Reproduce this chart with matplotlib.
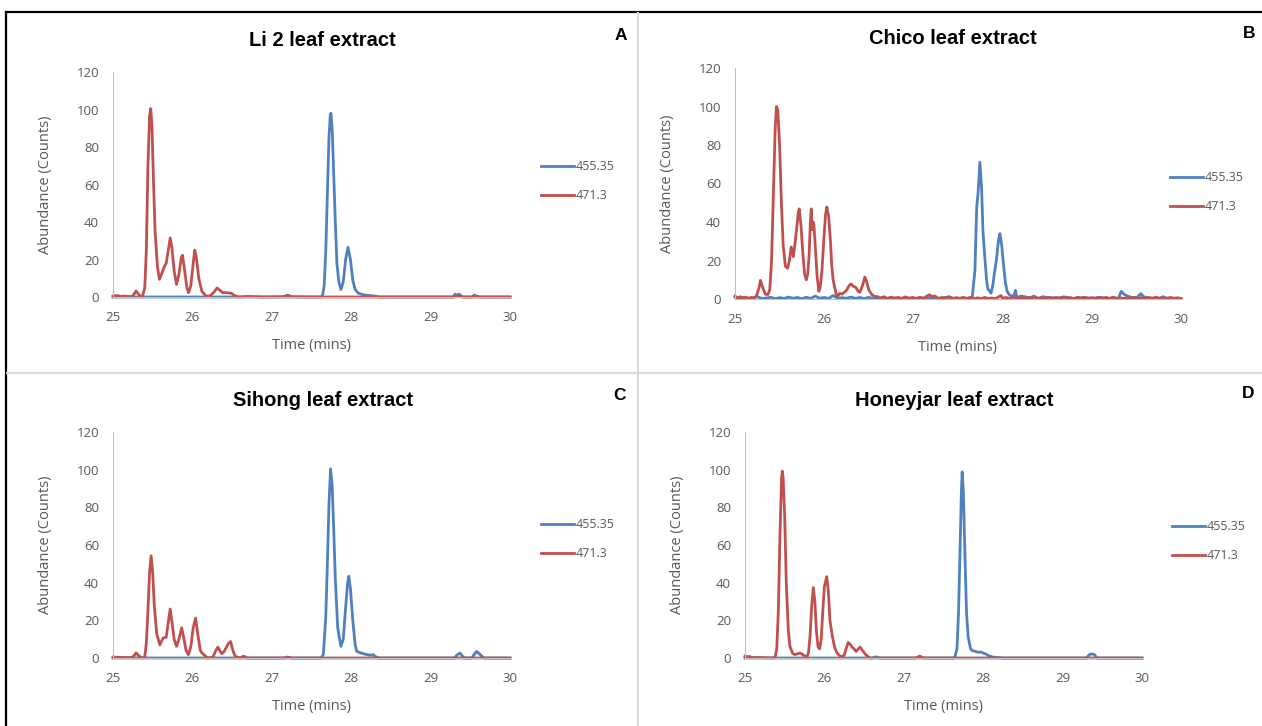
import numpy as np
import matplotlib.pyplot as plt
from matplotlib.lines import Line2D

# Ion traces (time in mins, abundance in counts) for the four leaf extracts
a_455 = np.array([
    [25.0, 0], [27.62, 0], [27.64, 1], [27.66, 6], [27.68, 25], [27.70, 55], [27.72, 85], [27.735, 96],
    [27.745, 98], [27.76, 90], [27.78, 65], [27.80, 40], [27.82, 18], [27.845, 8], [27.87, 4],
    [27.90, 8], [27.93, 20], [27.96, 26.5], [27.99, 20], [28.02, 9], [28.05, 4], [28.09, 2],
    [28.15, 1.2], [28.22, 0.8], [28.30, 0.5], [28.35, 0], [29.28, 0], [29.31, 1.5], [29.33, 1],
    [29.36, 1.5], [29.40, 0], [29.52, 0], [29.55, 1], [29.58, 0.5], [29.62, 0], [30.0, 0]])
a_471 = np.array([
    [25.0, 0.5], [25.05, 0.8], [25.1, 0.3], [25.15, 0.5], [25.2, 0.2], [25.25, 0.5], [25.29, 3.2],
    [25.33, 1.0], [25.37, 0], [25.40, 5], [25.42, 25], [25.44, 70], [25.46, 96], [25.475, 100.5],
    [25.49, 92], [25.51, 62], [25.53, 35], [25.56, 16], [25.585, 9.4], [25.61, 12], [25.64, 15.6],
    [25.67, 18], [25.70, 26], [25.72, 31.5], [25.74, 27], [25.77, 14], [25.80, 6.7], [25.83, 12],
    [25.86, 21], [25.875, 22.3], [25.90, 15], [25.93, 5], [25.95, 2.3], [25.98, 6], [26.01, 18],
    [26.03, 25], [26.05, 21], [26.08, 10], [26.12, 3], [26.17, 0.5], [26.22, 0.5], [26.27, 2.5],
    [26.31, 4.8], [26.35, 3.5], [26.38, 2.3], [26.41, 2.3], [26.45, 2.2], [26.49, 2], [26.53, 0.8],
    [26.58, 0], [26.7, 0.3], [26.9, 0], [27.15, 0.2], [27.2, 1], [27.25, 0.2], [27.5, 0],
    [29.3, 0], [29.35, 0.5], [29.4, 0], [30.0, 0]])

b_455 = np.array([
    [25.00, 1.0], [25.05, 0.3], [25.10, 0.8], [25.15, 0.2], [25.20, 0.6], [25.25, 1.2], [25.30, 0.3],
    [25.35, 0.5], [25.40, 0.9], [25.45, 0.2], [25.50, 0.7], [25.55, 0.3], [25.60, 1.0], [25.65, 0.4],
    [25.70, 0.8], [25.75, 0.2], [25.80, 0.9], [25.85, 0.3], [25.90, 1.5], [25.95, 0.4], [26.00, 0.8],
    [26.05, 0.3], [26.10, 1.8], [26.15, 0.3], [26.20, 0.7], [26.25, 0.4], [26.30, 1.0], [26.35, 0.3],
    [26.40, 0.8], [26.45, 0.2], [26.50, 0.9], [26.55, 0.3], [26.60, 0.5], [26.70, 0.3], [26.80, 0.6],
    [26.90, 0.2], [27.00, 0.5], [27.10, 0.2], [27.20, 0.6], [27.30, 0.3], [27.40, 1.2], [27.45, 0.3],
    [27.55, 0.5], [27.62, 0.3], [27.66, 1], [27.69, 15], [27.71, 48], [27.725, 55], [27.745, 71],
    [27.765, 57], [27.78, 35], [27.80, 22], [27.82, 10], [27.835, 5], [27.85, 4.5], [27.87, 3],
    [27.89, 7], [27.91, 14], [27.93, 20], [27.955, 31], [27.97, 34], [27.99, 28], [28.01, 18],
    [28.03, 9], [28.05, 4], [28.08, 2], [28.10, 1.5], [28.13, 2], [28.145, 4.5], [28.16, 0.5],
    [28.20, 1.5], [28.25, 1.2], [28.30, 0.5], [28.35, 1.5], [28.40, 0.3], [28.45, 1.2], [28.50, 0.8],
    [28.60, 0.5], [28.70, 1.0], [28.80, 0.3], [28.90, 0.8], [29.00, 0.4], [29.10, 0.8], [29.20, 0.3],
    [29.30, 0.5], [29.33, 4], [29.36, 2.5], [29.40, 1.5], [29.45, 0.8], [29.50, 0.5], [29.55, 2.8],
    [29.58, 1.2], [29.65, 0.5], [29.75, 0.3], [29.80, 1.2], [29.85, 0.3], [29.90, 0.5], [30.00, 0.3]])
b_471 = np.array([
    [25.00, 1.5], [25.03, 0.5], [25.06, 1.2], [25.09, 0.3], [25.12, 1.0], [25.15, 0.4], [25.18, 0.8],
    [25.21, 0.3], [25.24, 1.5], [25.27, 6], [25.285, 9.7], [25.31, 6], [25.34, 2.5], [25.37, 2.3],
    [25.39, 5], [25.41, 20], [25.43, 55], [25.45, 88], [25.465, 100], [25.48, 98], [25.50, 80],
    [25.52, 50], [25.54, 28], [25.565, 17], [25.59, 16], [25.61, 20], [25.63, 27], [25.645, 24],
    [25.655, 22], [25.675, 30], [25.69, 36], [25.71, 45], [25.72, 46.8], [25.74, 38], [25.76, 24],
    [25.78, 13], [25.80, 10], [25.815, 13], [25.83, 22], [25.845, 40], [25.855, 46.8], [25.865, 36],
    [25.875, 40], [25.885, 38.6], [25.90, 27], [25.92, 12], [25.94, 4], [25.955, 6], [25.975, 15],
    [25.995, 30], [26.015, 44], [26.03, 47.8], [26.05, 43], [26.07, 30], [26.085, 17], [26.10, 10],
    [26.115, 6.6], [26.135, 2.5], [26.15, 1.4], [26.175, 3], [26.20, 2.5], [26.225, 3.5], [26.25, 4.5],
    [26.28, 7], [26.30, 7.8], [26.33, 6.5], [26.355, 6], [26.38, 4], [26.40, 3.5], [26.43, 7],
    [26.455, 11.4], [26.475, 9], [26.50, 4.8], [26.53, 2.5], [26.56, 1.4], [26.60, 1.2], [26.63, 0.5],
    [26.67, 1.2], [26.71, 0.3], [26.75, 1.0], [26.79, 0.2], [26.83, 0.8], [26.87, 0.3], [26.91, 1.1],
    [26.95, 0.4], [26.99, 0.8], [27.03, 0.2], [27.07, 0.9], [27.11, 0.5], [27.15, 1.5], [27.18, 2.2],
    [27.21, 1.2], [27.24, 1.6], [27.28, 0.3], [27.32, 0.8], [27.36, 0.2], [27.40, 1.0], [27.44, 0.3],
    [27.48, 0.7], [27.52, 0.2], [27.56, 0.8], [27.60, 0.3], [27.64, 0.9], [27.68, 0.2], [27.72, 0.6],
    [27.76, 0.2], [27.80, 0.8], [27.84, 0.3], [27.88, 0.5], [27.92, 0.2], [27.96, 1.2], [27.98, 1.8],
    [28.00, 0.4], [28.04, 0.8], [28.08, 0.2], [28.12, 1.0], [28.16, 0.3], [28.20, 0.8], [28.24, 0.2],
    [28.28, 0.9], [28.32, 0.4], [28.36, 1.0], [28.40, 0.3], [28.44, 0.7], [28.48, 0.2], [28.52, 0.9],
    [28.56, 0.3], [28.60, 0.8], [28.64, 0.2], [28.68, 1.1], [28.72, 0.4], [28.76, 0.6], [28.80, 0.2],
    [28.84, 0.9], [28.88, 0.3], [28.92, 0.8], [28.96, 0.2], [29.00, 0.7], [29.04, 0.3], [29.08, 0.9],
    [29.12, 0.2], [29.16, 0.8], [29.20, 0.3], [29.24, 1.0], [29.28, 0.2], [29.32, 0.6], [29.36, 0.3],
    [29.40, 0.8], [29.44, 0.2], [29.48, 0.9], [29.52, 0.3], [29.56, 0.7], [29.60, 0.2], [29.64, 0.8],
    [29.68, 0.3], [29.72, 1.0], [29.76, 0.2], [29.80, 0.6], [29.84, 0.3], [29.88, 0.8], [29.92, 0.2],
    [29.96, 0.6], [30.00, 0.3]])

c_455 = np.array([
    [25.0, 0], [27.62, 0], [27.65, 2], [27.68, 22], [27.70, 50], [27.72, 82], [27.74, 100.4],
    [27.76, 92], [27.78, 68], [27.80, 42], [27.83, 16], [27.87, 6.2], [27.90, 10], [27.93, 27],
    [27.955, 40], [27.97, 43.4], [27.99, 37], [28.02, 20], [28.05, 7], [28.07, 3.5], [28.10, 3],
    [28.15, 2.3], [28.20, 1.8], [28.25, 1.5], [28.28, 1.8], [28.30, 0.8], [28.35, 0], [29.30, 0],
    [29.33, 1.5], [29.37, 2.7], [29.40, 1], [29.43, 0], [29.52, 0], [29.55, 2], [29.58, 3.5],
    [29.62, 2], [29.67, 0], [30.0, 0]])
c_471 = np.array([
    [25.0, 0.5], [25.1, 0.3], [25.2, 0.2], [25.25, 0.5], [25.29, 2.7], [25.33, 1], [25.37, 0],
    [25.40, 0.5], [25.42, 8], [25.44, 25], [25.46, 45], [25.48, 54.3], [25.50, 45], [25.52, 28],
    [25.55, 13], [25.59, 7], [25.63, 10.6], [25.67, 11], [25.70, 20], [25.72, 26], [25.74, 20],
    [25.77, 10], [25.80, 6.2], [25.83, 10], [25.865, 16], [25.89, 11], [25.92, 4], [25.95, 1.8],
    [25.98, 6], [26.01, 16], [26.04, 21.2], [26.07, 12], [26.10, 4], [26.12, 2.7], [26.19, 0],
    [26.26, 0.5], [26.29, 3.5], [26.32, 5.8], [26.35, 3.5], [26.37, 2.3], [26.40, 3.5], [26.45, 7.5],
    [26.48, 8.8], [26.51, 4], [26.54, 0.9], [26.60, 0], [26.645, 1], [26.69, 0], [27.15, 0],
    [27.20, 0.5], [27.25, 0], [30.0, 0]])

d_455 = np.array([
    [25.0, 0], [26.6, 0], [26.65, 0.6], [26.7, 0], [27.64, 0], [27.67, 5], [27.69, 25], [27.71, 60],
    [27.725, 88], [27.735, 98.8], [27.75, 88], [27.77, 55], [27.79, 24], [27.81, 11.5], [27.84, 5],
    [27.86, 4], [27.90, 3.5], [27.94, 3], [27.97, 3.2], [28.00, 2.6], [28.04, 2], [28.07, 1.2],
    [28.12, 0.5], [28.25, 0], [29.30, 0], [29.33, 1.5], [29.35, 2.1], [29.38, 2.1], [29.40, 1.8],
    [29.43, 0], [30.0, 0]])
d_471 = np.array([
    [25.0, 1.0], [25.03, 0.7], [25.06, 0.8], [25.08, 0.3], [25.2, 0.2], [25.35, 0], [25.38, 0.5],
    [25.40, 5], [25.42, 25], [25.44, 65], [25.46, 95], [25.47, 99.2], [25.48, 96], [25.50, 75],
    [25.52, 40], [25.545, 15], [25.565, 6.2], [25.60, 2.5], [25.625, 1.8], [25.66, 2.2], [25.69, 2.6],
    [25.72, 2], [25.74, 1.4], [25.78, 0.5], [25.80, 3], [25.82, 12], [25.84, 28], [25.86, 37.4],
    [25.88, 30], [25.90, 14], [25.92, 6], [25.94, 4.8], [25.96, 10], [25.98, 25], [26.00, 38],
    [26.03, 43.2], [26.05, 35], [26.07, 20], [26.10, 11.5], [26.13, 5.5], [26.16, 2.6], [26.21, 0.5],
    [26.25, 1.5], [26.27, 4.5], [26.30, 8.3], [26.33, 7], [26.35, 5.8], [26.38, 4.5], [26.40, 3.5],
    [26.43, 5], [26.45, 5.8], [26.48, 4], [26.52, 1.8], [26.57, 0], [27.15, 0], [27.20, 1],
    [27.25, 0], [30.0, 0]])

titles = ['Li 2 leaf extract', 'Chico leaf extract', 'Sihong leaf extract', 'Honeyjar leaf extract']
letters = ['A', 'B', 'C', 'D']
series_labels = ['455.35', '471.3']
x_ticks = [25, 26, 27, 28, 29, 30]
y_ticks = [0, 20, 40, 60, 80, 100, 120]

BLUE = '#4F81BD'
RED = '#C0504D'
GREY_TXT = '#595959'

W, H = 1262, 726


def fx(x):
    return x / W


def fy(y):
    return 1 - y / H


fig = plt.figure(figsize=(W / 100, H / 100), dpi=100)

# pixel layout of each panel: axes box (left, right, top, bottom), title centre, letter, legend
panels = [
    dict(data=(a_455, a_471), box=(113, 510, 72, 297), title=(322, 40), letter=(621, 36), leg=(541, 181)),
    dict(data=(b_455, b_471), box=(735, 1181, 68, 299), title=(953, 39), letter=(1249, 34), leg=(1170, 192)),
    dict(data=(c_455, c_471), box=(113, 510, 432, 658), title=(323, 400), letter=(620, 395), leg=(541, 539)),
    dict(data=(d_455, d_471), box=(745, 1142, 432, 658), title=(954, 400), letter=(1248, 393), leg=(1172, 541)),
]

tick_font = 'Open Sans'
for i, p in enumerate(panels):
    l, r, t, b = p['box']
    ax = fig.add_axes([fx(l), fy(b), fx(r - l), (b - t) / H])
    s455, s471 = p['data']
    ax.plot(s455[:, 0], s455[:, 1], color=BLUE, lw=2.0, label=series_labels[0], clip_on=False)
    ax.plot(s471[:, 0], s471[:, 1], color=RED, lw=2.0, label=series_labels[1], clip_on=False)
    ax.set_xlim(25, 30)
    ax.set_ylim(0, 120)
    ax.set_xticks(x_ticks)
    ax.set_yticks(y_ticks)
    ax.tick_params(length=0, pad=10, labelsize=9.5, labelcolor=GREY_TXT)
    for lab in ax.get_xticklabels() + ax.get_yticklabels():
        lab.set_fontfamily(tick_font)
    for side in ['top', 'right']:
        ax.spines[side].set_visible(False)
    for side in ['left', 'bottom']:
        ax.spines[side].set_color('#BFBFBF')
        ax.spines[side].set_linewidth(0.8)
    ax.set_xlabel('Time (mins)', fontsize=10.5, color=GREY_TXT, family=tick_font, labelpad=10)
    ax.set_ylabel('Abundance (Counts)', fontsize=10.5, color=GREY_TXT, family=tick_font, labelpad=17)
    ax.legend(loc='center left', bbox_to_anchor=(fx(p['leg'][0]), fy(p['leg'][1])),
              bbox_transform=fig.transFigure, frameon=False,
              prop={'family': tick_font, 'size': 9}, handlelength=2.6, handletextpad=0.15,
              labelspacing=1.3, borderpad=0, borderaxespad=0, labelcolor=GREY_TXT)
    fig.text(fx(p['title'][0]), fy(p['title'][1]), titles[i], ha='center', va='center',
             fontsize=14.5, fontweight='bold', family='Liberation Sans')
    fig.text(fx(p['letter'][0]), fy(p['letter'][1]), letters[i], ha='center', va='center',
             fontsize=12.5, fontweight='bold', family='Liberation Sans')

# frame: black outer edge and grey dividers between the four charts
fig.add_artist(Line2D([fx(6), fx(W)], [fy(12), fy(12)], color='black', lw=1.6, transform=fig.transFigure))
fig.add_artist(Line2D([fx(6), fx(6)], [fy(12), fy(H)], color='black', lw=1.6, transform=fig.transFigure))
fig.add_artist(Line2D([fx(638), fx(638)], [fy(13), fy(H)], color='#D9D9D9', lw=1.5, transform=fig.transFigure))
fig.add_artist(Line2D([fx(7), fx(W)], [fy(373), fy(373)], color='#D9D9D9', lw=1.5, transform=fig.transFigure))

fig.savefig('out.png', dpi=100)
